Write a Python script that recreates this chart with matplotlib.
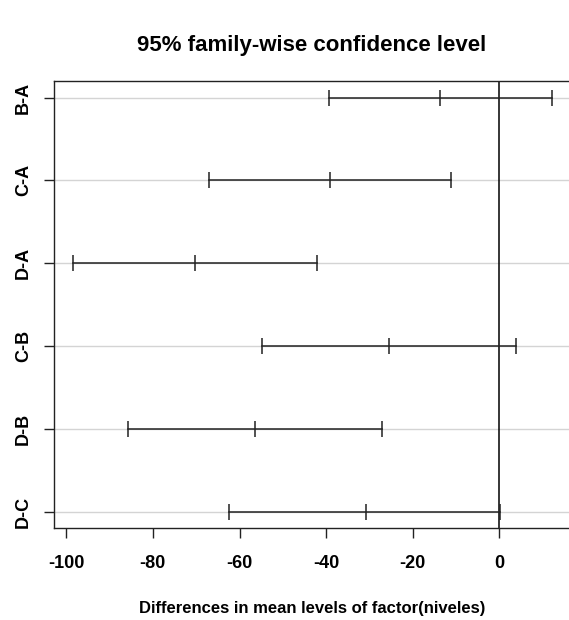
import matplotlib
matplotlib.use("Agg")
import matplotlib.pyplot as plt

comparisons = ["B-A", "C-A", "D-A", "C-B", "D-B", "D-C"]
diff = [-13.7, -39.2, -70.2, -25.5, -56.5, -30.9]
lwr = [-39.3, -67.1, -98.4, -54.8, -85.8, -62.5]
upr = [12.1, -11.2, -42.2, 3.8, -27.1, 0.1]
xticks = [-100, -80, -60, -40, -20, 0]

W, H = 569, 620
fig = plt.figure(figsize=(W / 100, H / 100), dpi=100)
left, right, top, bottom = 54, 571, 81, 528.3
ax = fig.add_axes([left / W, 1 - bottom / H, (right - left) / W, (bottom - top) / H])

n = len(comparisons)
ys = list(range(n, 0, -1))

for y in ys:
    ax.axhline(y, color="#d4d4d4", lw=1, zorder=1)
ax.axvline(0, color="black", lw=1.1, zorder=2)

for y, lo, m, hi in zip(ys, lwr, diff, upr):
    ax.plot([lo, hi], [y, y], color="#222222", lw=1.1, zorder=3)
    ax.plot([lo, m, hi], [y, y, y], ls="none", marker="|", markersize=11.5,
            markeredgewidth=1.1, color="#222222", zorder=3)

xmin, xmax = min(lwr), max(upr)
pad = 0.04 * (xmax - xmin)
ax.set_xlim(xmin - pad, xmax + pad)
ax.set_ylim(0.8, n + 0.2)

ax.set_xticks(xticks)
ax.set_xticklabels([str(v) for v in xticks])
ax.set_yticks(ys)
ax.set_yticklabels(comparisons, rotation=90, va="center")

font = dict(family="Liberation Sans", weight="bold")
for lab in ax.get_xticklabels() + ax.get_yticklabels():
    lab.set_fontfamily("Liberation Sans")
    lab.set_fontweight("bold")
    lab.set_fontsize(13)

ax.tick_params(axis="both", direction="out", length=7, width=1, color="#222222")
ax.tick_params(axis="x", pad=12)
ax.tick_params(axis="y", pad=9)
for s in ax.spines.values():
    s.set_linewidth(1)
    s.set_color("#222222")

fig.text(312 / W, 1 - 45 / H, "95% family-wise confidence level", ha="center", va="center",
         fontsize=16, **font)
fig.text(312 / W, 1 - 608 / H, "Differences in mean levels of factor(niveles)", ha="center",
         va="center", fontsize=12, **font)

fig.savefig("out.png", dpi=100)
